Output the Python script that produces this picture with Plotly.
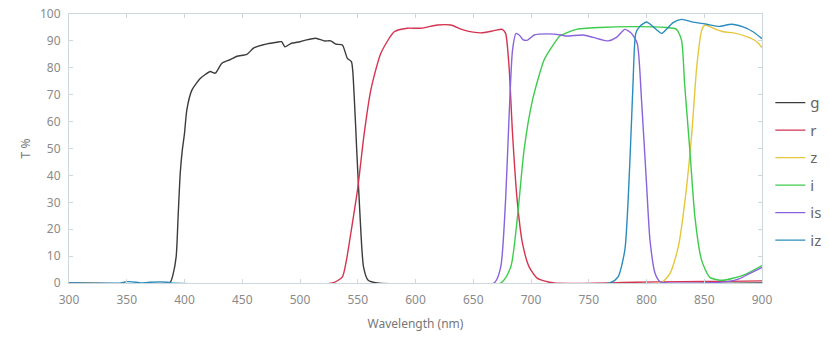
import plotly.graph_objects as go

# filter transmission curves
g_nm = [300, 386, 388, 390, 392.8, 394.5, 396.3, 398, 400, 402, 406.4, 413.6, 418, 422.3, 426.6, 432.4, 439.6, 445.4,
        454, 460, 471.5, 480, 484, 487, 492, 500, 505, 513.6, 520.8, 526.6, 531, 536.7, 541, 544.5, 546.8,
        549.1, 552, 555, 559, 567, 900]
g_t = [0, 0, 0.5, 3, 9.8, 25, 40.8, 49, 55.6, 64.3, 71.7, 76, 77.5, 78.6, 78, 81.7, 83, 84.3,
       85, 87.4, 88.9, 89.5, 89.7, 87.8, 89, 89.7, 90.3, 91, 90, 90, 88.8, 88.5, 83.5, 82.3, 70.5,
       49.5, 24.7, 6, 1, 0, 0]

r_nm = [300, 528, 536.7, 540, 544, 549.8, 555.6, 561.3, 570, 581.6, 593, 604.6, 619, 630.5, 642, 656.5,
        668, 675, 678, 681, 684, 688, 692.6, 698.4, 705.6, 720, 790, 830, 870, 900]
r_t = [0, 0, 2.3, 8, 18.5, 34.6, 55.6, 71.7, 85.4, 93.4, 94.7, 94.7, 95.9, 95.9, 94, 93,
       93.8, 94.3, 92.8, 80.4, 55.6, 30.9, 14.8, 6, 1.7, 0, 0.3, 0.5, 0.6, 0.8]

z_nm = [300, 811.7, 820.4, 827.6, 833.4, 839.2, 843.5, 847.8, 850.7, 858, 866.6, 875.3, 886.8, 895.5, 900]
z_t = [0, 0, 3.6, 13.6, 30.9, 55.6, 80.4, 94, 95.9, 94.7, 93.4, 93, 91.6, 89.7, 87.5]

i_nm = [300, 673.8, 682.5, 688.3, 694, 701.3, 711.4, 720, 725, 739.5, 759.6, 788.5, 817.3, 826, 830.3,
        833, 837.5, 841.9, 847.6, 854.8, 866, 883.8, 900]
i_t = [0, 0, 6, 24.7, 49.5, 68, 83, 89, 91.8, 94.3, 95, 95.3, 95, 94.3, 90.3,
       74, 49.5, 24.7, 8.6, 2.1, 1, 2.9, 6.5]

is_nm = [300, 668, 673.8, 678, 681, 684, 687, 689.8, 693, 697, 702.8, 714.4, 726, 730.8, 745.2, 753.9, 766.8,
         774, 781.3, 787, 792, 795.7, 800, 803, 807.4, 811.7, 870, 880, 889.6, 900]
is_t = [0, 0, 6, 30.9, 61.8, 86.6, 92.8, 92.2, 90.5, 90.3, 92.2, 92.6, 92.2, 91.8, 92.2, 91.3, 90,
        91.3, 94.3, 92.8, 89, 68, 37, 16, 3.6, 0.5, 0.5, 1.5, 3.6, 5.8]

iz_nm = [300, 345, 350, 358, 362, 370, 385, 388, 768, 775.4, 781.3, 785.4, 788.3, 790.7, 794, 800, 805.7,
         813, 817.3, 823, 830.3, 840.4, 852, 863.4, 873.5, 883.6, 892.2, 900]
iz_t = [0, 0, 0.5, 0.3, 0, 0.3, 0.3, 0, 0, 2.3, 12.4, 43, 74, 92.8, 95.3, 97, 95.3,
        92.8, 94.3, 96.8, 98, 97, 96.2, 95.4, 96.2, 95.2, 93.4, 90.8]

series = [
    ("g", g_nm, g_t, "#3c3c3c"),
    ("r", r_nm, r_t, "#d43450"),
    ("z", z_nm, z_t, "#e6c63c"),
    ("i", i_nm, i_t, "#3ccc4c"),
    ("is", is_nm, is_t, "#8a62dc"),
    ("iz", iz_nm, iz_t, "#2a8cbc"),
]

fig = go.Figure()
for name, xs, ys, col in series:
    fig.add_trace(go.Scatter(x=xs, y=ys, name=name, mode="lines", legendgroup=name,
                             line=dict(color=col, width=1.4, shape="spline", smoothing=0.6)))

axis_style = dict(showline=True, linecolor="#cdd7de", linewidth=1, mirror="ticks",
                  ticks="inside", ticklen=4, tickcolor="#cdd7de", showgrid=False, zeroline=False,
                  ticklabeloverflow="allow",
                  tickfont=dict(size=12, color="#8a8a8a"))

fig.update_xaxes(range=[300, 900], dtick=50, ticklabelstandoff=6, automargin=False,
                 title=dict(text="Wavelength (nm)", font=dict(size=12, color="#777777"), standoff=12),
                 **axis_style)
fig.update_yaxes(range=[0, 100], dtick=10, ticklabelstandoff=5, automargin=True,
                 title=dict(text="T %", font=dict(size=12, color="#777777"), standoff=6),
                 **axis_style)

# page body has an 8px margin, so the figure is a bit smaller than the window
fig.update_layout(
    width=822, height=336,
    margin=dict(l=61, r=68, t=6, b=61, autoexpand=False),
    plot_bgcolor="white", paper_bgcolor="white",
    font=dict(family="Noto Sans", color="#777777"),
    legend=dict(x=1.012, y=0.415, yanchor="middle", xanchor="left",
                font=dict(size=15, color="#666666"), tracegroupgap=5,
                itemwidth=30),
)

fig.write_html("out.html")
